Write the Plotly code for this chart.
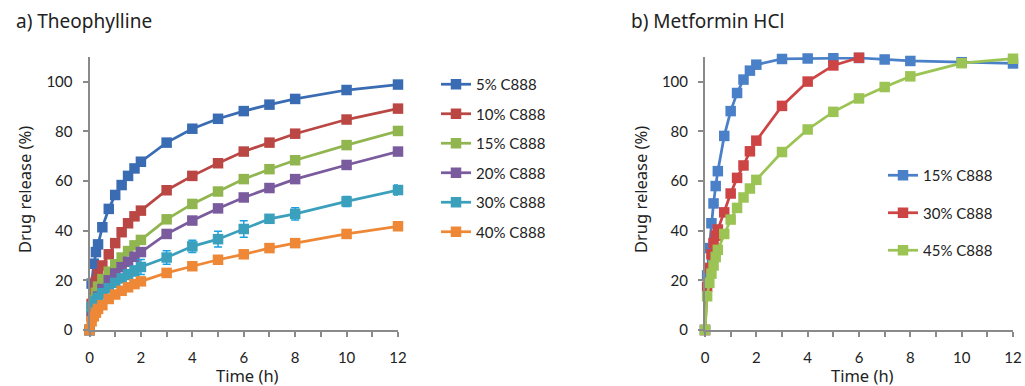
import plotly.graph_objects as go

# ---------------- data ----------------
theo_time = [0, 0.083, 0.167, 0.25, 0.333, 0.5, 0.75, 1, 1.25, 1.5, 1.75, 2, 3, 4, 5, 6, 7, 8, 10, 12]
theo_5 = [0, 18.7, 26.7, 31.4, 34.5, 41.4, 48.8, 54.4, 58.4, 62.1, 65.1, 67.8, 75.5, 81.1, 85.1, 88.2, 90.8, 93.1, 96.7, 98.9]
theo_10 = [0, 10.5, 15.5, 19.5, 22.5, 26.0, 30.5, 35.0, 39.4, 43.0, 45.8, 48.1, 56.3, 62.1, 67.2, 71.9, 75.5, 79.1, 84.8, 89.2]
theo_15 = [0, 7.5, 12.0, 15.0, 17.5, 20.5, 23.5, 26.5, 29.2, 31.8, 34.1, 36.3, 44.6, 50.8, 55.8, 60.8, 64.8, 68.4, 74.5, 80.2]
theo_20 = [0, 5.5, 9.0, 11.5, 13.5, 16.5, 20.0, 22.8, 25.3, 27.5, 29.5, 31.4, 38.7, 44.1, 49.0, 53.4, 57.2, 60.8, 66.5, 71.9]
theo_30 = [0, 9.3, 10.5, 11.8, 13.0, 14.8, 16.8, 19.0, 20.8, 22.3, 23.8, 25.4, 29.2, 33.7, 36.6, 40.7, 44.8, 46.8, 51.8, 56.4]
theo_30_err = [0, 0.8, 0.8, 0.8, 1.0, 1.0, 1.2, 1.5, 1.5, 2.0, 2.0, 3.0, 2.7, 2.5, 3.2, 3.3, 1.0, 2.5, 2.0, 2.0]
theo_40 = [0, 3.5, 5.5, 7.0, 8.5, 10.0, 12.5, 14.3, 15.8, 17.2, 18.5, 19.6, 23.0, 25.7, 28.3, 30.5, 33.0, 35.0, 38.7, 41.8]

met_time = [0, 0.083, 0.167, 0.25, 0.333, 0.417, 0.5, 0.75, 1, 1.25, 1.5, 1.75, 2, 3, 4, 5, 6, 7, 8, 10, 12]
met_15 = [0, 22.0, 33.0, 43.0, 51.0, 58.0, 64.0, 78.2, 88.2, 95.5, 100.9, 104.5, 106.9, 109.2, 109.4, 109.5, 109.6, 109.0, 108.4, 107.9, 107.4]
met_30 = [0, 17.4, 25.0, 30.5, 35.0, 38.0, 40.5, 47.4, 55.0, 61.3, 66.3, 72.0, 76.3, 90.3, 100.1, 106.6, 109.7]
met_45 = [0, 13.6, 19.0, 22.7, 26.0, 29.4, 32.3, 38.7, 44.5, 49.2, 53.4, 57.0, 60.5, 71.7, 80.8, 87.9, 93.3, 97.9, 102.2, 107.5, 109.3]

theo_names = ["5% C888", "10% C888", "15% C888", "20% C888", "30% C888", "40% C888"]
met_names = ["15% C888", "30% C888", "45% C888"]
x_ticks = [0, 2, 4, 6, 8, 10, 12]
y_ticks = [0, 20, 40, 60, 80, 100]

theo_colors = ["#3A6CB3", "#BB4744", "#91B650", "#7A5B9D", "#3BA0BC", "#EE8836"]
met_colors = ["#4A80C8", "#CC4444", "#9CC455"]
err_color = "#1BA1E2"

TICK_FONT = dict(family="Lato", size=15, color="#222222")
LEG_FONT = dict(family="Lato", size=15, color="#222222")
TITLE_FONT = dict(family="Noto Sans", size=16.5, color="#222222")
AX_GREY = "#8A8A8A"

fig = go.Figure()

theo_series = [theo_5, theo_10, theo_15, theo_20, theo_30, theo_40]
for i, (name, ys) in enumerate(zip(theo_names, theo_series)):
    kw = {}
    if name == "30% C888":
        kw["error_y"] = dict(type="data", array=theo_30_err, visible=True,
                             color=err_color, thickness=1.5, width=4)
    fig.add_trace(go.Scatter(
        x=theo_time, y=ys, name=name, mode="lines+markers",
        line=dict(color=theo_colors[i], width=2.75),
        marker=dict(symbol="square", size=10.5, color=theo_colors[i]),
        xaxis="x", yaxis="y", legend="legend", legendgroup="t%d" % i,
        cliponaxis=False, **kw))

met_series = [met_15, met_30, met_45]
for i, (name, ys) in enumerate(zip(met_names, met_series)):
    fig.add_trace(go.Scatter(
        x=met_time[:len(ys)], y=ys, name=name, mode="lines+markers",
        line=dict(color=met_colors[i], width=2.75),
        marker=dict(symbol="square", size=10.5, color=met_colors[i]),
        xaxis="x2", yaxis="y2", legend="legend2", legendgroup="m%d" % i,
        cliponaxis=False))

W, H = 1025, 386
def px_x(p):
    return p / W
def px_y(p):
    return 1 - p / H

xcommon = dict(range=[0, 12], tickmode="array", tickvals=x_ticks,
               showline=True, linecolor=AX_GREY, linewidth=2,
               ticks="outside", ticklen=5, tickwidth=1.5, tickcolor=AX_GREY,
               minor=dict(dtick=1, ticks="outside", ticklen=5, tickwidth=1.5, tickcolor=AX_GREY),
               showgrid=False, zeroline=False, tickfont=TICK_FONT,
               ticklabelstandoff=8, automargin=False, fixedrange=True)
ycommon = dict(range=[0, 110], tickmode="array", tickvals=y_ticks,
               showline=True, linecolor=AX_GREY, linewidth=2,
               ticks="outside", ticklen=5, tickwidth=1.5, tickcolor=AX_GREY,
               showgrid=False, zeroline=False, tickfont=TICK_FONT,
               ticklabelstandoff=7, automargin=False, fixedrange=True)

ydom = [px_y(330), px_y(57)]
fig.update_layout(
    width=W, height=H,
    margin=dict(l=0, r=0, t=0, b=0, autoexpand=False),
    paper_bgcolor="white", plot_bgcolor="white",
    xaxis=dict(domain=[px_x(89.5), px_x(398)], anchor="y", **xcommon),
    yaxis=dict(domain=ydom, anchor="x", **ycommon),
    xaxis2=dict(domain=[px_x(705), px_x(1013)], anchor="y2", **xcommon),
    yaxis2=dict(domain=ydom, anchor="x2", **ycommon),
    legend=dict(x=px_x(436), y=px_y(68), xanchor="left", yanchor="top",
                font=LEG_FONT, tracegroupgap=7, bgcolor="rgba(0,0,0,0)"),
    legend2=dict(x=px_x(883), y=px_y(159), xanchor="left", yanchor="top",
                 font=LEG_FONT, tracegroupgap=15, bgcolor="rgba(0,0,0,0)"),
    showlegend=True,
    annotations=[
        dict(text="a) Theophylline", x=px_x(14), y=px_y(21), xref="paper", yref="paper",
             xanchor="left", yanchor="middle", showarrow=False,
             font=dict(family="Noto Sans", size=19, color="#222222")),
        dict(text="b) Metformin HCl", x=px_x(629), y=px_y(21), xref="paper", yref="paper",
             xanchor="left", yanchor="middle", showarrow=False,
             font=dict(family="Noto Sans", size=19, color="#222222")),
        dict(text="Drug release (%)", x=px_x(24), y=px_y(190), xref="paper", yref="paper",
             xanchor="center", yanchor="middle", showarrow=False, textangle=-90,
             font=TITLE_FONT),
        dict(text="Drug release (%)", x=px_x(640), y=px_y(190), xref="paper", yref="paper",
             xanchor="center", yanchor="middle", showarrow=False, textangle=-90,
             font=TITLE_FONT),
        dict(text="Time (h)", x=px_x(247), y=px_y(375), xref="paper", yref="paper",
             xanchor="center", yanchor="middle", showarrow=False, font=TITLE_FONT),
        dict(text="Time (h)", x=px_x(862), y=px_y(375), xref="paper", yref="paper",
             xanchor="center", yanchor="middle", showarrow=False, font=TITLE_FONT),
    ],
)

fig.write_html("out.html")
